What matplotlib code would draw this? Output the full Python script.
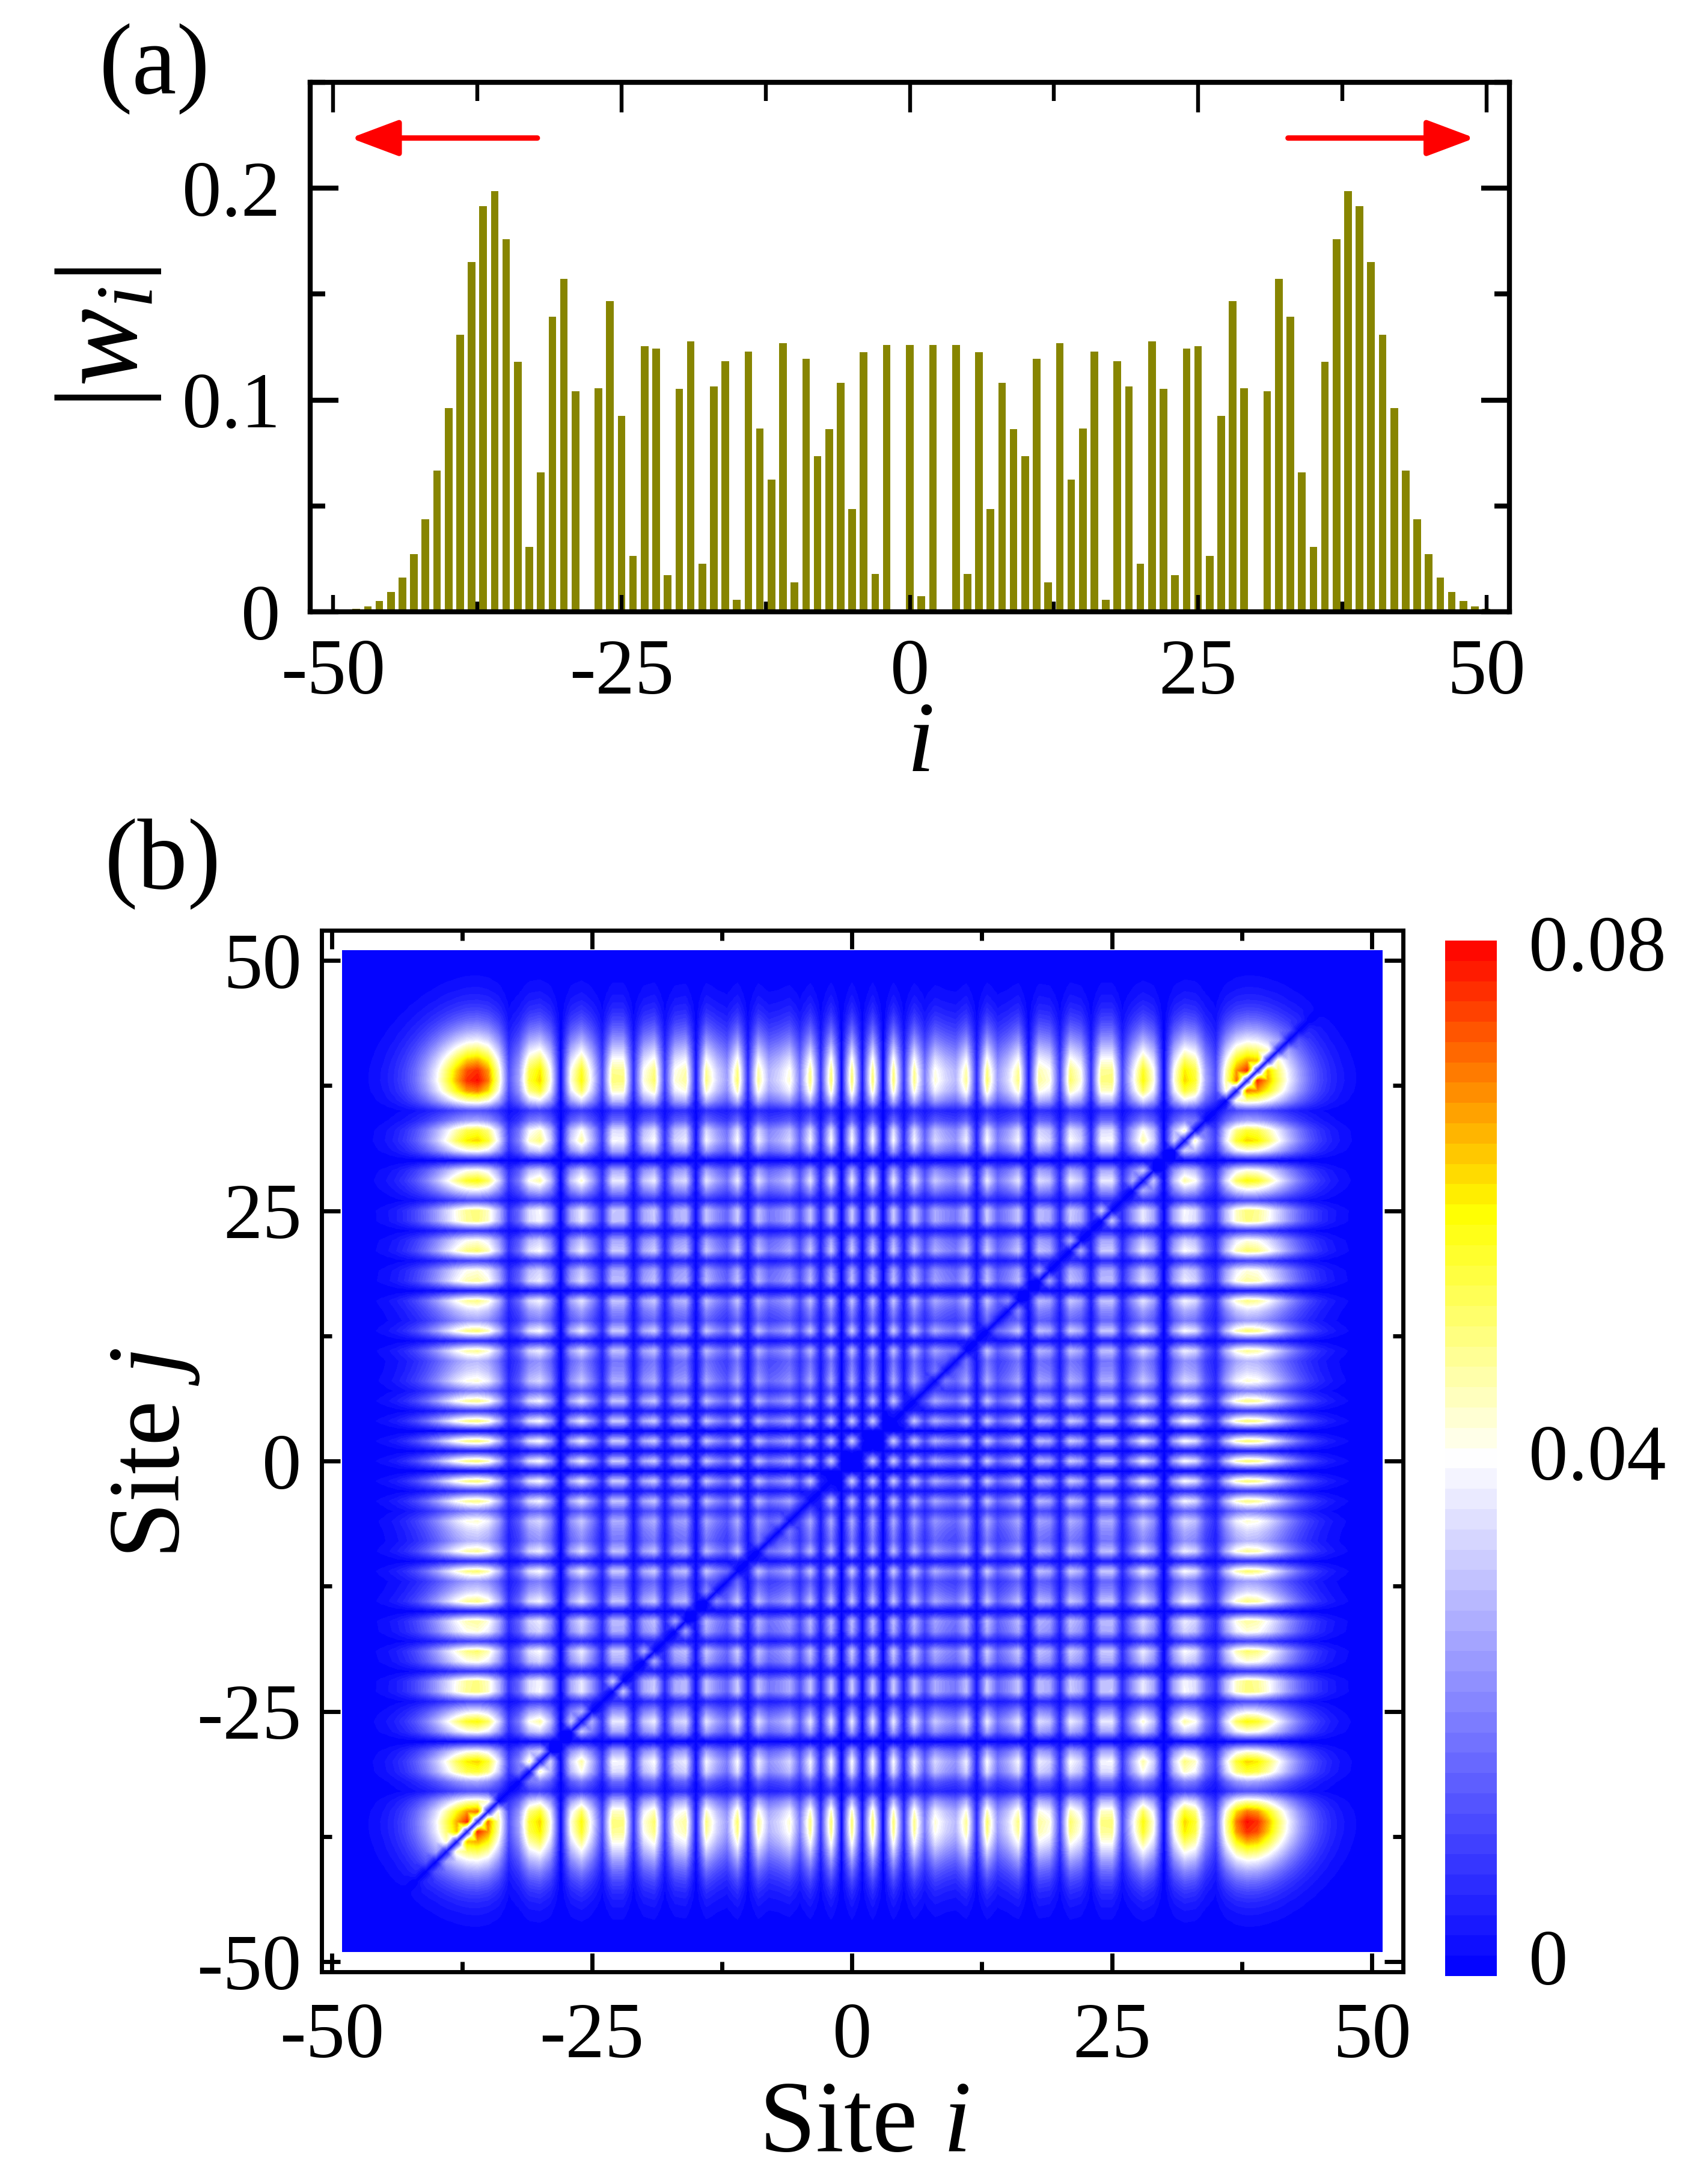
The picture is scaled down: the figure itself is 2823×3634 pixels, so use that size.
import numpy as np
import matplotlib
matplotlib.use("Agg")
import matplotlib.pyplot as plt
import matplotlib.tri as mtri
from matplotlib.colors import LinearSegmentedColormap
from matplotlib.ticker import MultipleLocator

plt.rcParams['font.family'] = ['Liberation Serif', 'DejaVu Serif']
plt.rcParams['mathtext.fontset'] = 'custom'
plt.rcParams['mathtext.rm'] = 'Liberation Serif'
plt.rcParams['mathtext.it'] = 'Liberation Serif:italic'
plt.rcParams['mathtext.bf'] = 'Liberation Serif:bold'

# |w_i|, sites -49 ... 51
sites = list(range(-49, 52))
w_left = [0, .0015, .0026, .0052, .0093, .0162, .0272, .0437, .0667, .0962, .1309, .1651, .1915, .1986, .1760,
          .1181, .0307, .0658, .1392, .1571, .1042, 0, .1056, .1467, .0925, .0264, .1254, .1243, .0173, .1053,
          .1277, .0227, .1064, .1184, .0058, .1229, .0866, .0624, .1269, .0139, .1195, .0735, .0863, .1080,
          .0485, .1226, .0179, .1259, 0, .1259]
w_mid = [.0074]
w_right = [.1259, 0, .1259, .0179, .1226, .0485, .1080, .0863, .0735, .1195, .0139, .1269, .0624, .0866, .1229,
           .0058, .1184, .1064, .0227, .1277, .1053, .0173, .1243, .1254, .0264, .0925, .1467, .1056, 0, .1042,
           .1571, .1392, .0658, .0307, .1181, .1760, .1986, .1915, .1651, .1309, .0962, .0667, .0437, .0272,
           .0162, .0093, .0052, .0026, .0015, 0]
w = np.array(w_left + w_mid + w_right)

xticks = [-50, -25, 0, 25, 50]
xticklabels = ['-50', '-25', '0', '25', '50']
a_yticks = [0, 0.1, 0.2]
a_yticklabels = ['0', '0.1', '0.2']
cbar_labels = ['0', '0.04', '0.08']
cbar_values = [0, 0.04, 0.08]

W, H = 2823, 3634
DPI = 100
fig = plt.figure(figsize=(W / DPI, H / DPI), dpi=DPI)


def px_axes(l, t, r, b):
    return fig.add_axes([l / W, 1 - b / H, (r - l) / W, (b - t) / H])


FS = 94
LW_A, LW_B = 6.0, 5.0

# ---------- panel (a)
ax = px_axes(516, 137, 2511, 1018)
ax.bar(sites, w, width=0.66, color='#878500', linewidth=0, zorder=1)
ax.set_xlim(-52, 52)
ax.set_ylim(0, 0.25)
ax.set_xticks(xticks, xticklabels)
ax.set_yticks(a_yticks, a_yticklabels)
ax.xaxis.set_minor_locator(MultipleLocator(12.5))
ax.yaxis.set_minor_locator(MultipleLocator(0.05))
ax.tick_params(axis='x', which='major', direction='in', length=20, width=4.6, top=True, pad=32, labelsize=FS)
ax.tick_params(axis='x', which='minor', direction='in', length=12, width=4.6, top=True)
ax.tick_params(axis='y', which='major', direction='in', length=34, width=6, right=True, pad=36, labelsize=FS)
ax.tick_params(axis='y', which='minor', direction='in', length=18, width=6, right=True)
for t in ax.xaxis.get_major_ticks():
    t.tick2line.set_markersize(36)
for t in ax.xaxis.get_minor_ticks():
    t.tick2line.set_markersize(22)
for s in ax.spines.values():
    s.set_linewidth(LW_A)
    s.set_zorder(5)
arrow = dict(arrowstyle='-|>,head_length=4.9,head_width=1.84', color='#ff0000', lw=6.5,
             shrinkA=0, shrinkB=0, capstyle='round', joinstyle='round')
ax.annotate('', xy=(-48.5, 0.2237), xytext=(-32.3, 0.2237), arrowprops=arrow)
ax.annotate('', xy=(49.0, 0.2237), xytext=(32.8, 0.2237), arrowprops=arrow)
fig.text(257 / W, 1 - 115 / H, '(a)', fontsize=120, ha='center', va='center')
fig.text(180 / W, 1 - 562 / H, r'$|w_{i}|$', fontsize=140, rotation=90, ha='center', va='center')
fig.text(1530 / W, 1 - 1243 / H, r'$i$', fontsize=120, ha='center', va='center')

# ---------- panel (b)
corr = 2 * np.outer(w, w)
np.fill_diagonal(corr, 0)
cmap = LinearSegmentedColormap.from_list(
    'bwyr', [(0, '#0000ff'), (0.5, '#ffffff'), (0.74, '#ffff00'), (1, '#ff0000')])
levels = np.linspace(0, 0.08, 52)

# Triangulate the site grid: each off-diagonal cell is cut in four around its
# centre, the cells on i = j are cut along the diagonal so the zero line stays whole.
n = len(sites)
gx, gy = np.meshgrid(sites, sites)
vx, vy, vz = list(gx.ravel().astype(float)), list(gy.ravel().astype(float)), list(corr.ravel())
triangles = []
for r in range(n - 1):
    for c in range(n - 1):
        a, b_, d, e = r * n + c, r * n + c + 1, (r + 1) * n + c + 1, (r + 1) * n + c
        if r == c:
            triangles += [[a, b_, d], [a, d, e]]
        else:
            m = len(vx)
            vx.append(sites[c] + 0.5)
            vy.append(sites[r] + 0.5)
            vz.append((corr[r, c] + corr[r, c + 1] + corr[r + 1, c] + corr[r + 1, c + 1]) / 4)
            triangles += [[a, b_, m], [b_, d, m], [d, e, m], [e, a, m]]
tri = mtri.Triangulation(vx, vy, triangles)

bx = px_axes(535, 1548, 2334, 3281)
cf = bx.tricontourf(tri, vz, levels=levels, cmap=cmap, vmin=0, vmax=0.08, antialiased=False)
bx.set_xlim(-51, 53)
bx.set_ylim(-51, 53)
bx.set_xticks(xticks, xticklabels)
bx.set_yticks(xticks, xticklabels)
bx.xaxis.set_minor_locator(MultipleLocator(12.5))
bx.yaxis.set_minor_locator(MultipleLocator(12.5))
bx.tick_params(which='major', direction='in', length=22, width=5, top=True, right=True, labelsize=FS)
bx.tick_params(which='minor', direction='in', length=12, width=5, top=True, right=True)
bx.tick_params(axis='x', which='major', pad=36)
bx.tick_params(axis='y', which='major', pad=24)
for s in bx.spines.values():
    s.set_linewidth(LW_B)
fig.text(271 / W, 1 - 1438 / H, '(b)', fontsize=120, ha='center', va='center')
fig.text(1437 / W, 1 - 3538 / H, r'Site $i$', fontsize=122, ha='center', va='center')
fig.text(258 / W, 1 - 2418 / H, r'Site $j$', fontsize=122, rotation=90, ha='center', va='center')

# ---------- colour bar
cax = px_axes(2404, 1565, 2490, 3288)
cb = fig.colorbar(cf, cax=cax)
cb.outline.set_visible(False)
cb.set_ticks([])
cb.ax.minorticks_off()
for lab, v, yp in zip(cbar_labels, cbar_values, [3270, 2430, 1583]):
    fig.text(2543 / W, 1 - yp / H, lab, fontsize=FS, ha='left', va='center')

fig.savefig('out.png', dpi=DPI)
